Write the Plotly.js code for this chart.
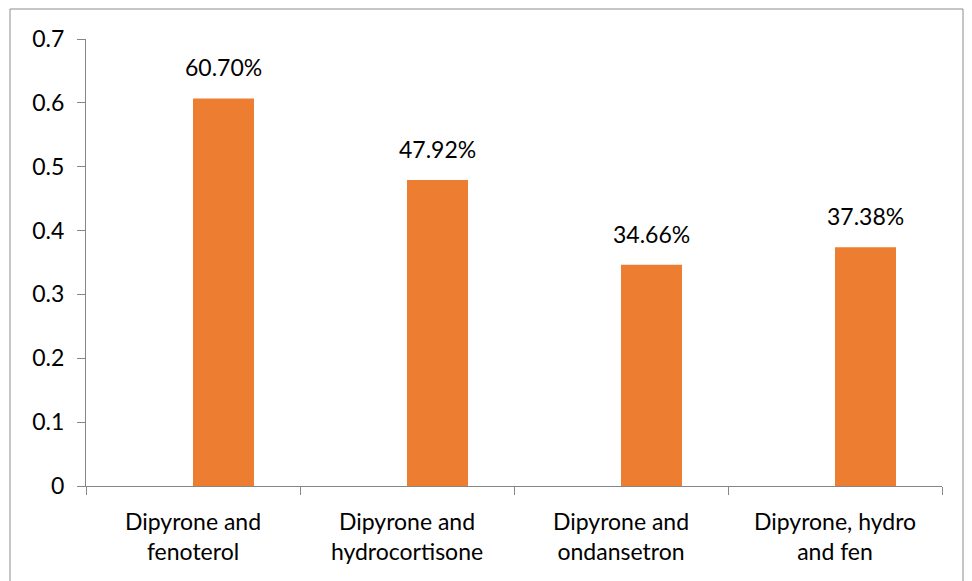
<!DOCTYPE html>
<html>
<head>
<meta charset="utf-8">
<script src="https://cdn.plot.ly/plotly-3.0.1.min.js"></script>
<style>
  html, body { margin: 0; padding: 0; background: #ffffff; }
  #chart { width: 972px; height: 581px; }
</style>
</head>
<body>
<div id="chart"></div>
<script>
// Combination therapies and their share (fraction of cases)
const categories = [
  "Dipyrone and<br>fenoterol",
  "Dipyrone and<br>hydrocortisone",
  "Dipyrone and<br>ondansetron",
  "Dipyrone, hydro<br>and fen"
];
const shares = [0.6070, 0.4792, 0.3466, 0.3738];
const shareLabels = ["60.70%", "47.92%", "34.66%", "37.38%"];

const barColor = "#ED7D31";
const axisColor = "#868686";
const fontFamily = "Lato, 'Open Sans', sans-serif";
const fontSize = 23;

// Bars sit in the right half of each category slot
const barOffset = 0.0;
const barWidth = 0.285;

const trace = {
  type: "bar",
  x: categories.map((_, i) => i),
  y: shares,
  offset: barOffset,
  width: barWidth,
  marker: { color: barColor, line: { width: 0 } },
  hoverinfo: "skip"
};

const annotations = shares.map((v, i) => ({
  x: i + barOffset + barWidth / 2,
  y: v,
  xref: "x",
  yref: "y",
  text: shareLabels[i],
  showarrow: false,
  yanchor: "bottom",
  yshift: 15,
  font: { family: fontFamily, size: fontSize, color: "#000000" }
}));

const layout = {
  width: 972,
  height: 581,
  margin: { l: 86, r: 30, t: 39, b: 95 },
  paper_bgcolor: "#ffffff",
  plot_bgcolor: "#ffffff",
  showlegend: false,
  font: { family: fontFamily, size: fontSize, color: "#000000" },
  xaxis: {
    type: "linear",
    range: [-0.5, 3.5],
    tickmode: "array",
    tickvals: categories.map((_, i) => i),
    ticktext: categories,
    showgrid: false,
    zeroline: false,
    showline: true,
    linecolor: axisColor,
    linewidth: 1,
    ticks: "",
    ticklabelstandoff: 15,
    fixedrange: true
  },
  xaxis2: {
    overlaying: "x",
    matches: "x",
    range: [-0.5, 3.5],
    tickmode: "array",
    tickvals: [-0.5, 0.5, 1.5, 2.5, 3.5],
    showticklabels: false,
    ticks: "outside",
    ticklen: 8,
    tickcolor: axisColor,
    showgrid: false,
    zeroline: false,
    anchor: "y",
    side: "bottom"
  },
  yaxis: {
    range: [0, 0.7],
    dtick: 0.1,
    tick0: 0,
    showgrid: false,
    zeroline: false,
    showline: true,
    linecolor: axisColor,
    linewidth: 1,
    ticks: "outside",
    ticklen: 8,
    tickcolor: axisColor,
    ticklabelstandoff: 8,
    fixedrange: true
  },
  annotations: annotations,
  shapes: [{
    type: "rect",
    xref: "paper", yref: "paper",
    x0: (10 - 86) / 856, x1: (963 - 86) / 856,
    y0: (486 - 590) / 447, y1: 1 + (39 - 9) / 447,
    line: { color: "#8c8c8c", width: 1 },
    fillcolor: "rgba(0,0,0,0)",
    layer: "below"
  }]
};

// Invisible trace to carry the boundary ticks on the second x axis
const tickCarrier = {
  type: "scatter",
  x: [],
  y: [],
  xaxis: "x2",
  yaxis: "y",
  hoverinfo: "skip"
};

Plotly.newPlot("chart", [trace, tickCarrier], layout, { staticPlot: true });
</script>
</body>
</html>
